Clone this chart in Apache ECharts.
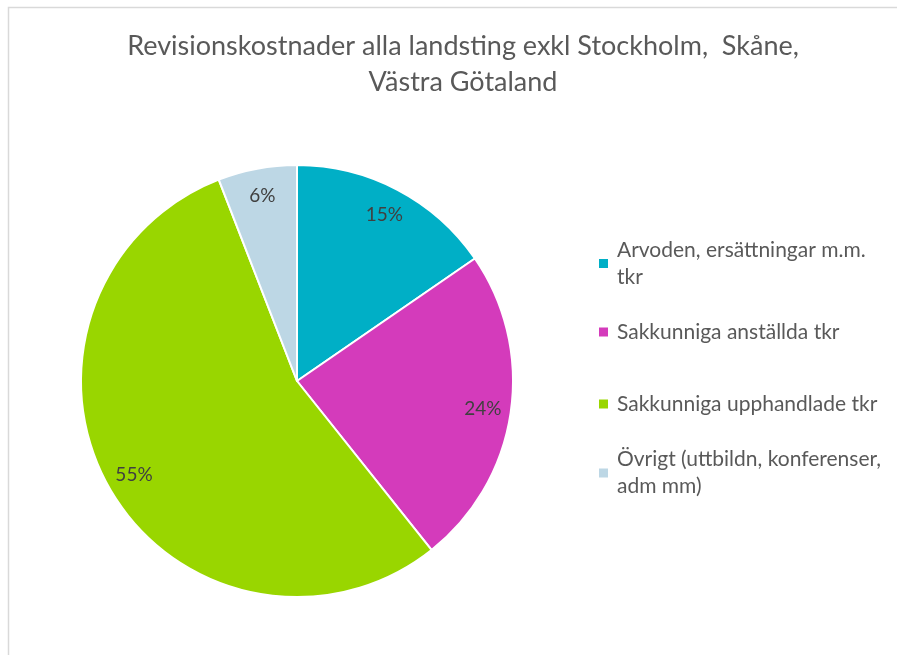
<!DOCTYPE html>
<html>
<head>
<meta charset="utf-8">
<script src="https://cdn.jsdelivr.net/npm/echarts@6/dist/echarts.min.js"></script>
<style>
  html, body { margin: 0; padding: 0; background: #fff; }
  #chart { width: 897px; height: 655px; }
</style>
</head>
<body>
<div id="chart"></div>
<script>
// andelar av kostnaderna (läst ur bilden, procent)
const categories = [
    'Arvoden, ersättningar m.m. tkr',
    'Sakkunniga anställda tkr',
    'Sakkunniga upphandlade tkr',
    'Övrigt (uttbildn, konferenser, adm mm)'
];
const shares = [15.4, 23.9, 54.8, 5.9];
const colors = ['#00AFC6', '#D43BBB', '#99D600', '#BDD7E5'];
// legend-texter som bryts på två rader som i originalet
const legendLines = [
    'Arvoden, ersättningar m.m.\ntkr',
    'Sakkunniga anställda tkr',
    'Sakkunniga upphandlade tkr',
    'Övrigt (uttbildn, konferenser,\nadm mm)'
];
const legendCenters = [263.5, 332, 404, 473];

const FONT = 'Lato, "Open Sans", sans-serif';
const LINE = 27;

const chart = echarts.init(document.getElementById('chart'));

const pieData = categories.map((name, i) => ({
    name: name,
    value: shares[i],
    itemStyle: {color: colors[i]}
}));

const legends = categories.map((name, i) => {
    const twoLines = legendLines[i].indexOf('\n') >= 0;
    const h = twoLines ? 3 * LINE : LINE;
    return {
        orient: 'vertical',
        left: 599,
        top: legendCenters[i] - h / 2,
        padding: 0,
        itemWidth: 9,
        itemHeight: 9,
        icon: 'rect',
        selectedMode: false,
        itemStyle: {borderWidth: 0},
        data: [name],
        formatter: () => legendLines[i],
        textStyle: {
            fontFamily: FONT,
            fontSize: 21,
            lineHeight: LINE,
            color: '#595959',
            padding: [twoLines ? LINE : 0, 0, 0, 4]
        }
    };
});

chart.setOption({
    animation: false,
    backgroundColor: '#fff',
    title: {
        text: 'Revisionskostnader alla landsting exkl Stockholm,  Skåne,\nVästra Götaland',
        left: 458,
        top: 23,
        textAlign: 'center',
        textStyle: {
            fontFamily: FONT,
            fontSize: 27,
            fontWeight: 'normal',
            lineHeight: 36,
            color: '#595959'
        }
    },
    legend: legends,
    graphic: [{
        type: 'rect',
        shape: {x: 8.5, y: 7.5, width: 1000, height: 1000},
        style: {fill: 'none', stroke: '#D9D9D9', lineWidth: 1.5},
        silent: true
    }],
    series: [
        {
            type: 'pie',
            center: [297, 381],
            radius: [0, 216],
            startAngle: 90,
            data: pieData,
            itemStyle: {borderColor: '#fff', borderWidth: 2},
            label: {show: false},
            labelLine: {show: false},
            emphasis: {disabled: true}
        },
        {
            // genomskinlig ring som bara bär procentetiketterna
            type: 'pie',
            center: [297, 381],
            radius: [154, 216],
            startAngle: 90,
            silent: true,
            data: categories.map((name, i) => ({name: name, value: shares[i]})),
            itemStyle: {color: 'rgba(0,0,0,0)', borderWidth: 0},
            label: {
                show: true,
                position: 'inside',
                formatter: p => Math.round(p.percent) + '%',
                fontFamily: FONT,
                fontSize: 19,
                color: '#404040'
            },
            labelLine: {show: false},
            emphasis: {disabled: true}
        }
    ]
});
</script>
</body>
</html>
